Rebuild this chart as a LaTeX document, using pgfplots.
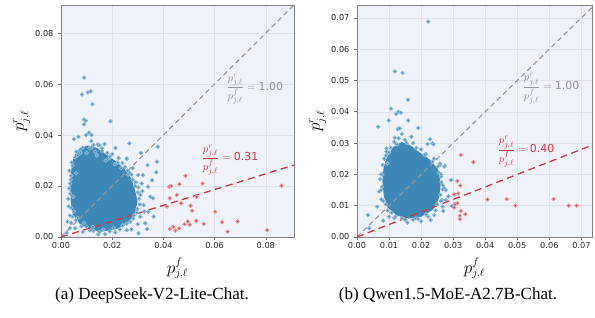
\documentclass[border=0pt]{standalone}
\usepackage{pgfplots}
\pgfplotsset{compat=1.18}
\usepackage{fontspec}
\setmainfont{Liberation Serif}
\newfontfamily\dejavu{DejaVu Sans}
\definecolor{bluec}{RGB}{62,136,184}
\definecolor{bluehalo}{RGB}{140,184,214}
\definecolor{redc}{RGB}{212,52,60}
\definecolor{redhalo}{RGB}{234,150,155}
\definecolor{bgc}{RGB}{239,243,249}
\definecolor{gridc}{RGB}{222,227,234}
\definecolor{annogray}{RGB}{150,150,150}
\tikzset{anno/.style={font=\fontsize{11}{11}\selectfont}}
\pgfplotsset{
  myaxis/.style={
    scale only axis, anchor=south west,
    axis background/.style={fill=bgc},
    axis line style={draw={rgb,255:red,130;green,130;blue,130}, line width=0.8pt},
    grid=major, grid style={gridc, line width=0.5pt},
    tick align=outside, major tick length=3pt,
    tick style={draw={rgb,255:red,110;green,110;blue,110}, line width=0.6pt},
    xtick pos=bottom, ytick pos=left,
    /pgf/number format/assume math mode=true,
    /pgf/number format/fixed, /pgf/number format/fixed zerofill,
    /pgf/number format/precision=2,
    ticklabel style={font=\dejavu\fontsize{8.2}{9}\selectfont, text={rgb,255:red,40;green,40;blue,40}},
    xticklabel style={yshift=1pt},
    yticklabel style={xshift=-1pt},
    scaled ticks=false,
    xlabel={$p^{f}_{j,\ell}$}, ylabel={$p^{r}_{j,\ell}$},
    label style={font=\fontsize{16}{16}\selectfont},
    xlabel style={yshift=-2pt},
    ylabel style={yshift=-2pt},
    clip=true,
  },
  bluepts/.style={only marks, mark=*, mark size=1.7pt, mark options={fill=bluec, draw=bluehalo, line width=0.9pt}},
  redpts/.style={only marks, mark=*, mark size=1.7pt, mark options={fill=redc, draw=redhalo, line width=0.9pt}},
  blob/.style={fill=bluec, draw=bluec, line width=2pt, line join=round},
}
\begin{document}
\begin{tikzpicture}
\path[use as bounding box] (0pt,0pt) rectangle (595pt,318pt);
% ---------------- left panel ----------------
\begin{axis}[myaxis, at={(61pt,81pt)}, width=233pt, height=232pt,
  xmin=0, xmax=0.091, ymin=0, ymax=0.091,
  xtick={0,0.02,0.04,0.06,0.08}, ytick={0,0.02,0.04,0.06,0.08}]
\addplot[blob] coordinates {
(0.0050,0.0300) (0.0060,0.0325) (0.0075,0.0345) (0.0105,0.0355) (0.0140,0.0345)
(0.0175,0.0320) (0.0210,0.0295) (0.0245,0.0265) (0.0270,0.0230) (0.0285,0.0185)
(0.0295,0.0140) (0.0285,0.0095) (0.0260,0.0060) (0.0215,0.0035) (0.0160,0.0025)
(0.0110,0.0035) (0.0075,0.0055) (0.0050,0.0090) (0.0042,0.0140) (0.0040,0.0200)
(0.0043,0.0255)} -- cycle;
\addplot[bluepts] coordinates {
(0.0090,0.0625) (0.0082,0.0559) (0.0105,0.0567) (0.0116,0.0572) (0.0123,0.0521)
(0.0090,0.0461) (0.0097,0.0456) (0.0090,0.0442) (0.0193,0.0454) (0.0051,0.0384)
(0.0068,0.0393) (0.0098,0.0400) (0.0109,0.0409) (0.0119,0.0400) (0.0118,0.0376)
(0.0127,0.0361) (0.0144,0.0363) (0.0170,0.0365) (0.0267,0.0367) (0.0213,0.0349)
(0.0160,0.0348) (0.0074,0.0337) (0.0077,0.0330) (0.0312,0.0330) (0.0378,0.0354)
(0.0111,0.0348) (0.0133,0.0334) (0.0181,0.0330) (0.0257,0.0308) (0.0189,0.0308)
(0.0375,0.0295) (0.0257,0.0306) (0.0338,0.0282) (0.0301,0.0243) (0.0320,0.0243)
(0.0372,0.0254) (0.0356,0.0223) (0.0340,0.0197) (0.0349,0.0158) (0.0359,0.0152)
(0.0323,0.0125) (0.0342,0.0099) (0.0362,0.0080) (0.0310,0.0080) (0.0329,0.0054)
(0.0336,0.0031) (0.0303,0.0015) (0.0257,0.0027) (0.0212,0.0018) (0.0172,0.0011)
(0.0127,0.0024) (0.0101,0.0040) (0.0055,0.0034) (0.0035,0.0084) (0.0059,0.0250)
(0.0048,0.0158) (0.0030,0.0120) (0.0032,0.0190) (0.0038,0.0225) (0.0045,0.0280)
(0.0065,0.0320) (0.0100,0.0330) (0.0140,0.0320) (0.0175,0.0300) (0.0210,0.0285)
(0.0235,0.0270) (0.0262,0.0245) (0.0280,0.0225) (0.0290,0.0200) (0.0300,0.0175)
(0.0305,0.0150) (0.0298,0.0110) (0.0285,0.0085) (0.0270,0.0060) (0.0240,0.0045)
(0.0205,0.0035) (0.0165,0.0030) (0.0125,0.0040) (0.0090,0.0055) (0.0065,0.0075)
(0.0050,0.0100) (0.0022,0.0016) (0.0035,0.0035) (0.0025,0.0060) (0.0150,0.0360)
(0.0225,0.0310) (0.0280,0.0270) (0.0315,0.0210) (0.0318,0.0180) (0.0275,0.0030)
(0.0145,0.0010) (0.0085,0.0020) (0.0040,0.0055) (0.0028,0.0150) (0.0033,0.0260)
(0.0200,0.0325) (0.0240,0.0290) (0.0325,0.0100) (0.0300,0.0050)
(0.0060,0.0335) (0.0085,0.0350) (0.0120,0.0352) (0.0260,0.0260) (0.0275,0.0245)
(0.0292,0.0215) (0.0302,0.0195) (0.0310,0.0165) (0.0308,0.0128) (0.0296,0.0096)
(0.0282,0.0072) (0.0256,0.0052) (0.0230,0.0030) (0.0190,0.0022) (0.0150,0.0020)
(0.0115,0.0026) (0.0080,0.0042) (0.0058,0.0066) (0.0045,0.0080) (0.0040,0.0115)
(0.0036,0.0170) (0.0035,0.0210) (0.0040,0.0240) (0.0042,0.0292) (0.0055,0.0312)
(0.0160,0.0338) (0.0190,0.0315) (0.0222,0.0292) (0.0250,0.0275) (0.0268,0.0252)};
\addplot[redpts] coordinates {
(0.0486,0.0240) (0.0423,0.0197) (0.0430,0.0200) (0.0463,0.0207) (0.0553,0.0210)
(0.0861,0.0201) (0.0452,0.0165) (0.0425,0.0152) (0.0529,0.0158) (0.0469,0.0132)
(0.0414,0.0119) (0.0506,0.0123) (0.0512,0.0103) (0.0602,0.0099) (0.0425,0.0031)
(0.0438,0.0040) (0.0447,0.0025) (0.0461,0.0034) (0.0482,0.0050) (0.0495,0.0061)
(0.0503,0.0048) (0.0528,0.0063) (0.0558,0.0051) (0.0629,0.0058) (0.0651,0.0021)
(0.0690,0.0061) (0.0805,0.0027)};
\addplot[annogray, line width=1.1pt, dash pattern=on 5pt off 3.5pt] coordinates {(0,0) (0.091,0.091)};
\addplot[redc, line width=1.3pt, dash pattern=on 7pt off 4.5pt] coordinates {(0,0) (0.091,0.02821)};
\node[annogray, anno] at (axis cs:0.0757,0.0580)
  {$\displaystyle\frac{p^{r}_{j,\ell}}{p^{f}_{j,\ell}}=\mbox{\dejavu 1.00}$};
\node[redc, anno] at (axis cs:0.0660,0.0302)
  {$\displaystyle\frac{p^{r}_{j,\ell}}{p^{f}_{j,\ell}}=\mbox{\dejavu 0.31}$};
\end{axis}
% ---------------- right panel ----------------
\begin{axis}[myaxis, at={(357pt,81pt)}, width=235pt, height=232pt,
  xmin=0, xmax=0.0733, ymin=0, ymax=0.0741,
  xtick={0,0.01,0.02,0.03,0.04,0.05,0.06,0.07}, ytick={0,0.01,0.02,0.03,0.04,0.05,0.06,0.07}]
\addplot[blob] coordinates {
(0.0095,0.0250) (0.0115,0.0285) (0.0140,0.0300) (0.0165,0.0290) (0.0190,0.0270)
(0.0225,0.0245) (0.0250,0.0215) (0.0258,0.0170) (0.0253,0.0125) (0.0235,0.0090)
(0.0200,0.0068) (0.0160,0.0062) (0.0125,0.0072) (0.0100,0.0095) (0.0087,0.0130)
(0.0082,0.0180) (0.0086,0.0220)} -- cycle;
\addplot[bluepts] coordinates {
(0.0222,0.0688) (0.0118,0.0529) (0.0142,0.0524) (0.0159,0.0438) (0.0106,0.0410)
(0.0122,0.0393) (0.0129,0.0400) (0.0137,0.0397) (0.0099,0.0372) (0.0160,0.0372)
(0.0066,0.0352) (0.0127,0.0345) (0.0133,0.0347) (0.0191,0.0348) (0.0140,0.0329)
(0.0118,0.0317) (0.0228,0.0312) (0.0235,0.0299) (0.0220,0.0297) (0.0092,0.0283)
(0.0121,0.0299) (0.0095,0.0269) (0.0092,0.0273) (0.0116,0.0304) (0.0238,0.0296)
(0.0259,0.0230) (0.0274,0.0227) (0.0293,0.0182) (0.0272,0.0156) (0.0277,0.0118)
(0.0267,0.0097) (0.0241,0.0070) (0.0230,0.0054) (0.0183,0.0060) (0.0157,0.0046)
(0.0116,0.0060) (0.0082,0.0052) (0.0034,0.0070) (0.0038,0.0028) (0.0069,0.0145)
(0.0063,0.0097) (0.0079,0.0200) (0.0095,0.0235) (0.0259,0.0235) (0.0272,0.0225)
(0.0262,0.0193) (0.0267,0.0152) (0.0277,0.0150) (0.0265,0.0118) (0.0269,0.0083)
(0.0296,0.0099) (0.0105,0.0285) (0.0150,0.0310) (0.0175,0.0300) (0.0200,0.0280)
(0.0215,0.0265) (0.0240,0.0250) (0.0255,0.0205) (0.0263,0.0175) (0.0260,0.0135)
(0.0250,0.0105) (0.0215,0.0072) (0.0175,0.0055) (0.0140,0.0060) (0.0108,0.0078)
(0.0090,0.0105) (0.0078,0.0160) (0.0076,0.0120) (0.0085,0.0250) (0.0170,0.0320)
(0.0130,0.0315) (0.0200,0.0050) (0.0100,0.0065) (0.0072,0.0185) (0.0285,0.0130)
(0.0100,0.0270) (0.0125,0.0295) (0.0155,0.0300) (0.0185,0.0285) (0.0210,0.0262)
(0.0235,0.0240) (0.0252,0.0225) (0.0262,0.0200) (0.0268,0.0165) (0.0262,0.0115)
(0.0245,0.0085) (0.0222,0.0065) (0.0190,0.0058) (0.0150,0.0055) (0.0120,0.0065)
(0.0095,0.0085) (0.0082,0.0115) (0.0075,0.0150) (0.0075,0.0200) (0.0080,0.0230)
(0.0090,0.0260)};
\addplot[redpts] coordinates {
(0.0324,0.0262) (0.0363,0.0239) (0.0313,0.0179) (0.0322,0.0164) (0.0303,0.0136)
(0.0316,0.0139) (0.0306,0.0105) (0.0313,0.0108) (0.0303,0.0094) (0.0324,0.0083)
(0.0338,0.0073) (0.0321,0.0068) (0.0321,0.0057) (0.0407,0.0120) (0.0467,0.0121)
(0.0494,0.0100) (0.0613,0.0121) (0.0660,0.0100) (0.0685,0.0100)};
\addplot[annogray, line width=1.1pt, dash pattern=on 5pt off 3.5pt] coordinates {(0,0) (0.0741,0.0741)};
\addplot[redc, line width=1.3pt, dash pattern=on 7pt off 4.5pt] coordinates {(0,0) (0.0733,0.02932)};
\node[annogray, anno] at (axis cs:0.0605,0.0473)
  {$\displaystyle\frac{p^{r}_{j,\ell}}{p^{f}_{j,\ell}}=\mbox{\dejavu 1.00}$};
\node[redc, anno] at (axis cs:0.0527,0.0272)
  {$\displaystyle\frac{p^{r}_{j,\ell}}{p^{f}_{j,\ell}}=\mbox{\dejavu 0.40}$};
\end{axis}
\node[font=\fontsize{17}{17}\selectfont] at (152pt,23pt) {(a) DeepSeek-V2-Lite-Chat.};
\node[font=\fontsize{17}{17}\selectfont] at (448pt,23pt) {(b) Qwen1.5-MoE-A2.7B-Chat.};
\end{tikzpicture}
\end{document}
